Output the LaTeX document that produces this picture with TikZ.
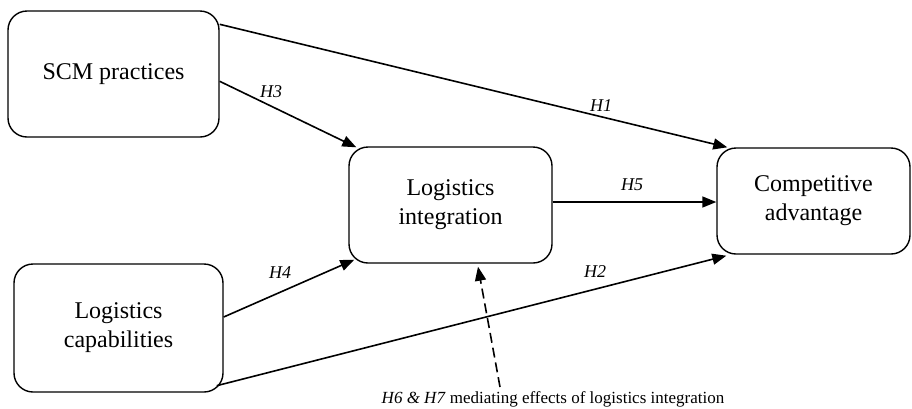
\documentclass[tikz,border=0pt]{standalone}
\usepackage{fontspec}
\setmainfont{Liberation Serif}
\usetikzlibrary{arrows.meta,calc}
\begin{document}
\begin{tikzpicture}[x=1pt,y=-1pt,
  box/.style={draw, line width=1.4pt, rounded corners=19pt, align=center,
    font=\fontsize{24}{29}\selectfont, inner sep=0pt},
  conn/.style={line width=1.6pt, -{Triangle[length=14pt,width=11pt]}},
  dconn/.style={conn, dash pattern=on 10pt off 5pt},
  hlab/.style={font=\fontsize{18}{20}\selectfont\itshape, inner sep=0pt}]
\useasboundingbox (0,0) rectangle (912,408);
\node[box, minimum width=211pt, minimum height=126pt] (scm) at (113.5,74) {SCM practices};
\node[box, minimum width=209pt, minimum height=128pt] (lc) at (118.5,328) {Logistics\\capabilities};
\node[box, minimum width=203pt, minimum height=116pt] (li) at (450.5,205) {Logistics\\integration};
\node[box, minimum width=193pt, minimum height=106pt] (ca) at (813.5,201) {Competitive\\advantage};
\node[font=\fontsize{17}{20}\selectfont, inner sep=0pt, anchor=base] (note) at (553,403) {\textit{H6 \& H7} mediating effects of logistics integration};
\coordinate (ns) at (500,387);
\draw[conn] ($(scm.north east)+(0,14)$) -- ($(ca.north west)+(11,0)$);
\draw[conn] ($(scm.north east)+(0,71)$) -- ($(li.north west)+(8,1)$);
\draw[conn] ($(lc.east)+(0,-11)$) -- ($(li.south west)+(6,-4)$);
\draw[conn] ($(lc.south east)+(-7,-7)$) -- ($(ca.south west)+(10,1)$);
\draw[conn] ($(li.east)+(0,-3)$) -- ($(ca.west)+(0,1)$);
\draw[dconn] (ns) -- ($(li.south)+(27.5,3)$);
\node[hlab] (h1) at (601,106) {H1};
\node[hlab] (h2) at (595,272) {H2};
\node[hlab] (h3) at (271,92) {H3};
\node[hlab] (h4) at (280,273) {H4};
\node[hlab] (h5) at (632,185) {H5};
\end{tikzpicture}
\end{document}
